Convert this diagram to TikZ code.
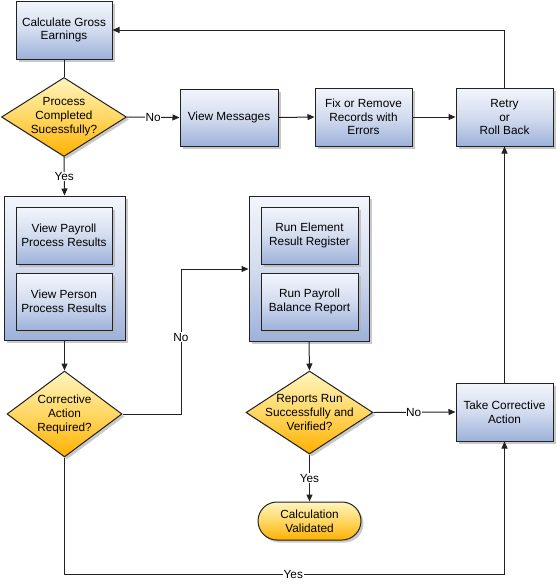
\documentclass[tikz,border=0pt]{standalone}
\usepackage{fontspec}
\setmainfont{Liberation Sans}
\usetikzlibrary{shapes.geometric,shadows,arrows.meta}
\definecolor{btop}{HTML}{F2F5FB}
\definecolor{bmid}{HTML}{D3DCEF}
\definecolor{bbot}{HTML}{9DB1DA}
\definecolor{ytop}{HTML}{FFF5BE}
\definecolor{ymid}{HTML}{FFD763}
\definecolor{ybot}{HTML}{FFB100}
\definecolor{ln}{HTML}{222222}
\tikzset{
  shad/.style={drop shadow={shadow xshift=2.5pt,shadow yshift=-2.5pt,fill=black!30,opacity=0.7}},
  box/.style={draw=ln,line width=1pt,top color=btop,bottom color=bbot,middle color=bmid,shad,
    inner sep=0pt,align=center,font=\fontsize{11.8}{13.6}\selectfont},
  outer/.style={draw=ln,line width=1pt,top color=btop,bottom color=bbot,middle color=bmid,shad,inner sep=0pt},
  dia/.style={diamond,draw=ln,line width=1pt,top color=ytop,bottom color=ybot,middle color=ymid,shad,inner sep=0pt},
  dtext/.style={align=center,inner sep=0pt,font=\fontsize{11.8}{14}\selectfont},
  term/.style={draw=ln,line width=1pt,rounded corners=19pt,top color=ytop,bottom color=ybot,middle color=ymid,shad,
    inner sep=0pt,align=center,font=\fontsize{11.8}{13.6}\selectfont},
  conn/.style={draw=ln,line width=1pt},
  arr/.style={conn,-{Triangle[length=7pt,width=6pt]}},
  lab/.style={fill=white,inner sep=0.6pt,font=\fontsize{11.8}{13.6}\selectfont},
}
\begin{document}
\begin{tikzpicture}[x=1pt,y=-1pt]
\useasboundingbox (0,0) rectangle (557,587);
% top row
\node[box,minimum width=96pt,minimum height=58pt] (calc) at (64,30) {Calculate Gross\\Earnings};
\node[dia,minimum width=125pt,minimum height=79pt] (d1) at (64,117) {};
\node[dtext] (d1t) at (d1.center) {Process\\Completed\\Sucessfully?};
\node[box,minimum width=98pt,minimum height=57pt] (msg) at (229,117.5) {View Messages};
\node[box,minimum width=97pt,minimum height=58pt] (fix) at (363.5,117) {Fix or Remove\\Records with\\Errors};
\node[box,minimum width=97pt,minimum height=58pt] (retry) at (504.5,117) {Retry\\or\\Roll Back};
% left group
\node[outer,minimum width=121pt,minimum height=144pt] (lg) at (64.5,268) {};
\node[box,minimum width=96pt,minimum height=57pt] (vpr) at (64,235.5) {View Payroll\\Process Results};
\node[box,minimum width=96pt,minimum height=57pt] (vper) at (64,301.5) {View Person\\Process Results};
\node[dia,minimum width=115pt,minimum height=86pt] (d2) at (64.5,414) {};
\node[dtext] (d2t) at (d2.center) {Corrective\\Action\\Required?};
% right group
\node[outer,minimum width=120pt,minimum height=145pt] (rg) at (309,268.5) {};
\node[box,minimum width=97pt,minimum height=57pt] (rer) at (309.5,235.5) {Run Element\\Result Register};
\node[box,minimum width=97pt,minimum height=57pt] (rpb) at (309.5,301.5) {Run Payroll\\Balance Report};
\node[dia,minimum width=127pt,minimum height=83pt] (d3) at (309.5,412.5) {};
\node[dtext] (d3t) at (d3.center) {Reports Run\\Successfully and\\Verified?};
\node[term,minimum width=103pt,minimum height=38pt] (val) at (309.5,521) {Calculation\\Validated};
\node[box,minimum width=97pt,minimum height=58pt] (tca) at (504.5,412) {Take Corrective\\Action};
% helper coordinates
\coordinate (c1) at (181,414);
\coordinate (c2) at (181,269);
\coordinate (c3) at (504.5,30);
\coordinate (c4) at (64.5,574);
\coordinate (c5) at (504.5,574);
% connectors
\draw[conn] (calc.south) -- (d1.north);
\draw[arr] (d1.east) -- node[lab]{No} (msg.west);
\draw[arr] (msg.east) -- (fix.west);
\draw[arr] (fix.east) -- (retry.west);
\draw[arr] (retry.north) -- (c3) -- (calc.east);
\draw[arr] (d1.south) -- node[lab,pos=0.5]{Yes} (lg.north);
\draw[arr] (lg.south) -- (d2.north);
\draw[arr] (d2.east) -- (c1) -- node[lab,pos=0.53]{No} (c2) -- (c2 -| rg.west);
\draw[arr] (rg.south) -- (d3.north);
\draw[arr] (d3.east) -- node[lab,pos=0.49]{No} (tca.west);
\draw[arr] (d3.south) -- node[lab,pos=0.5]{Yes} (val.north);
\draw[arr] (d2.south) -- (c4) -- node[lab,pos=0.52]{Yes} (c5) -- (tca.south);
\draw[arr] (tca.north) -- (retry.south);
\end{tikzpicture}
\end{document}
